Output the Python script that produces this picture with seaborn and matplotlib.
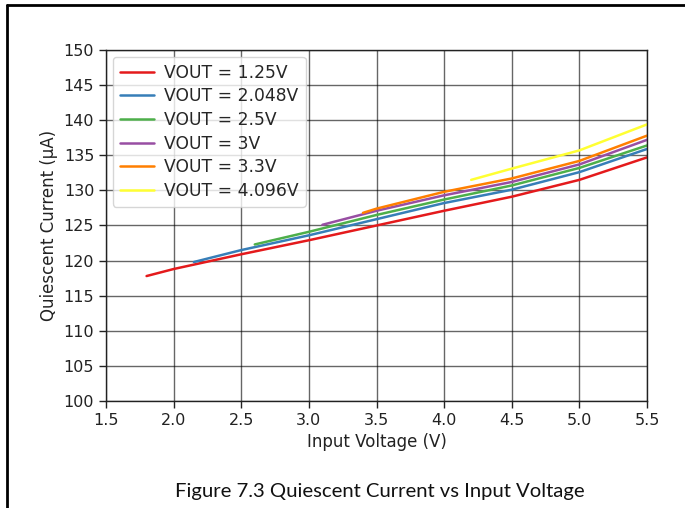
import matplotlib
matplotlib.use("Agg")
import matplotlib.pyplot as plt
from matplotlib.lines import Line2D
import numpy as np
import pandas as pd
import seaborn as sns

# Quiescent current (uA) versus input voltage (V) for each output voltage option
vout_labels = ["VOUT = 1.25V", "VOUT = 2.048V", "VOUT = 2.5V",
               "VOUT = 3V", "VOUT = 3.3V", "VOUT = 4.096V"]

vin_125 = [1.8, 2.0, 2.5, 3.0, 3.5, 4.0, 4.5, 5.0, 5.5]
iq_125 = [117.8, 118.8, 120.9, 122.9, 125.0, 127.1, 129.1, 131.5, 134.7]

vin_2048 = [2.15, 2.5, 3.0, 3.5, 4.0, 4.5, 5.0, 5.5]
iq_2048 = [119.8, 121.5, 123.6, 125.9, 128.2, 130.1, 132.6, 135.9]

vin_25 = [2.6, 3.0, 3.5, 4.0, 4.5, 5.0, 5.5]
iq_25 = [122.3, 124.1, 126.5, 128.7, 130.7, 133.2, 136.4]

vin_3 = [3.1, 3.5, 4.0, 4.5, 5.0, 5.5]
iq_3 = [125.1, 127.1, 129.3, 131.2, 133.7, 137.2]

vin_33 = [3.4, 3.5, 4.0, 4.5, 5.0, 5.5]
iq_33 = [126.8, 127.4, 129.8, 131.7, 134.2, 137.8]

vin_4096 = [4.2, 4.5, 5.0, 5.5]
iq_4096 = [131.5, 133.1, 135.7, 139.4]

x_ticks = [1.5, 2.0, 2.5, 3.0, 3.5, 4.0, 4.5, 5.0, 5.5]
y_ticks = [100, 105, 110, 115, 120, 125, 130, 135, 140, 145, 150]

series = [(vin_125, iq_125), (vin_2048, iq_2048), (vin_25, iq_25),
          (vin_3, iq_3), (vin_33, iq_33), (vin_4096, iq_4096)]
frames = []
for label, (vx, vy) in zip(vout_labels, series):
    frames.append(pd.DataFrame({"vin": vx, "iq": vy, "vout": label}))
df = pd.concat(frames, ignore_index=True)

sns.set_theme(style="ticks")
plt.rcParams["font.family"] = ["DejaVu Sans"]

fig = plt.figure(figsize=(6.85, 5.08), dpi=100)
ax = fig.add_axes([106 / 685, 1 - 401 / 508, (647 - 106) / 685, (401 - 50) / 508])

palette = sns.color_palette("Set1", 6)
sns.lineplot(data=df, x="vin", y="iq", hue="vout", hue_order=vout_labels,
             palette=palette, linewidth=1.8, ax=ax)

ax.set_xlim(1.5, 5.5)
ax.set_ylim(100, 150)
ax.set_xticks(x_ticks)
ax.set_yticks(y_ticks)
ax.tick_params(labelsize=11.5, length=5, width=1, color="#222222", labelcolor="#222222")
ax.grid(True, color="black", alpha=0.6, linewidth=1.0)
for s in ax.spines.values():
    s.set_color("#222222")
    s.set_linewidth(1.0)
ax.set_xlabel("Input Voltage (V)", fontsize=12, color="#222222")
ax.set_ylabel("Quiescent Current (µA)", fontsize=12, color="#222222")

sns.move_legend(ax, "upper left", title=None, fontsize=12.3, frameon=True,
                framealpha=0.8, labelspacing=0.33, handletextpad=0.6,
                borderaxespad=0.4)

# Page frame and figure caption
fig.add_artist(Line2D([7 / 685, 1.0], [1 - 5 / 508, 1 - 5 / 508],
                      transform=fig.transFigure, color="black", linewidth=2))
fig.add_artist(Line2D([7 / 685, 7 / 685], [0.0, 1 - 5 / 508],
                      transform=fig.transFigure, color="black", linewidth=2))
fig.text(380 / 685, 1 - 492 / 508, "Figure 7.3 Quiescent Current vs Input Voltage",
         ha="center", va="center", fontsize=14.6, family=["Lato", "DejaVu Sans"],
         color="#111111")

fig.savefig("out.png", dpi=100)
